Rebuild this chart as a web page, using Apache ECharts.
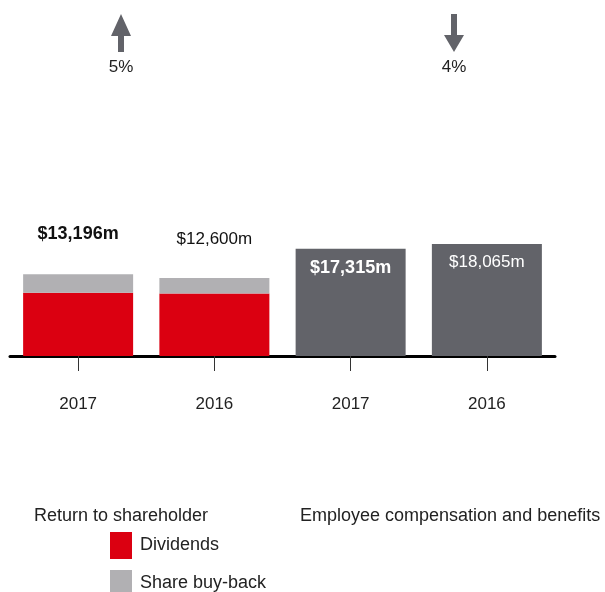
<!DOCTYPE html>
<html><head><meta charset="utf-8">
<script src="https://cdn.jsdelivr.net/npm/echarts@6/dist/echarts.min.js"></script>
<style>html,body{margin:0;padding:0;background:#fff}#c{width:605px;height:592px}</style>
</head><body><div id="c"></div>
<script>
const categories = ['2017', '2016', '2017 ', '2016 '];
const dividends = [10196, 10100, null, null];
const buyback = [3000, 2500, null, null];
const employee = [null, null, 17315, 18065];
const totalLabels = ['$13,196m', '$12,600m', '$17,315m', '$18,065m'];
const changeLabels = ['5%', '4%'];
const groupTitles = ['Return to shareholder', 'Employee compensation and benefits'];
const legendNames = ['Dividends', 'Share buy-back'];

const FONT = 'Liberation Sans, Arial, sans-serif';
const RED = '#db0011', LGRAY = '#b1b0b3', DGRAY = '#626369';

const chart = echarts.init(document.getElementById('c'));

const buybackData = buyback.map((v, i) => v == null ? null : {
  value: v,
  label: {
    show: true, position: 'top',
    distance: i === 0 ? 31 : 30,
    formatter: totalLabels[i],
    color: '#111', fontFamily: FONT,
    fontSize: i === 0 ? 18 : 17,
    fontWeight: i === 0 ? 'bold' : 'normal'
  }
});
const employeeData = employee.map((v, i) => v == null ? null : {
  value: v,
  label: {
    show: true, position: 'insideTop',
    distance: 10,
    formatter: totalLabels[i],
    color: '#fff', fontFamily: FONT,
    fontSize: i === 2 ? 18 : 17,
    fontWeight: i === 2 ? 'bold' : 'normal'
  }
});

function upArrow(cx) {
  return { type: 'polygon', shape: { points: [[cx, 14], [cx + 10, 36], [cx + 3, 36], [cx + 3, 52], [cx - 3, 52], [cx - 3, 36], [cx - 10, 36]] }, style: { fill: DGRAY } };
}
function downArrow(cx) {
  return { type: 'polygon', shape: { points: [[cx - 3, 14], [cx + 3, 14], [cx + 3, 35], [cx + 10, 35], [cx, 52], [cx - 10, 35], [cx - 3, 35]] }, style: { fill: DGRAY } };
}

const legendBase = {
  left: 105, itemWidth: 22, itemHeight: 27, icon: 'rect',
  textStyle: { fontSize: 18, color: '#222', fontFamily: FONT, padding: [5, 0, 0, 3] }
};

chart.setOption({
  animation: false,
  grid: { left: 10, right: 50, top: 232, bottom: 236 },
  xAxis: {
    type: 'category', data: categories,
    axisLine: { lineStyle: { color: '#000', width: 3 } },
    axisTick: { show: true, alignWithLabel: true, length: 15, lineStyle: { color: '#333', width: 1 } },
    axisLabel: { margin: 40, fontSize: 17, color: '#222', fontFamily: FONT, formatter: v => v.trim() }
  },
  yAxis: { type: 'value', min: 0, max: 20000, show: false, splitLine: { show: false } },
  legend: [
    Object.assign({}, legendBase, { top: 527, data: [legendNames[0]] }),
    Object.assign({}, legendBase, { top: 565, data: [legendNames[1]] })
  ],
  series: [
    { name: legendNames[0], type: 'bar', stack: 's', data: dividends, barWidth: 110, itemStyle: { color: RED } },
    { name: legendNames[1], type: 'bar', stack: 's', data: buybackData, barWidth: 110, itemStyle: { color: LGRAY } },
    { name: 'Employee', type: 'bar', stack: 's', data: employeeData, barWidth: 110, itemStyle: { color: DGRAY } }
  ],
  graphic: [
    upArrow(121), downArrow(454),
    { type: 'text', x: 121, y: 67, style: { text: changeLabels[0], fontSize: 17, fill: '#222', fontFamily: FONT, align: 'center', verticalAlign: 'middle' } },
    { type: 'text', x: 454, y: 67, style: { text: changeLabels[1], fontSize: 17, fill: '#222', fontFamily: FONT, align: 'center', verticalAlign: 'middle' } },
    { type: 'text', x: 34, y: 516, style: { text: groupTitles[0], fontSize: 18, fill: '#222', fontFamily: FONT, verticalAlign: 'middle' } },
    { type: 'text', x: 300, y: 516, style: { text: groupTitles[1], fontSize: 18, fill: '#222', fontFamily: FONT, verticalAlign: 'middle' } }
  ]
});
</script></body></html>
